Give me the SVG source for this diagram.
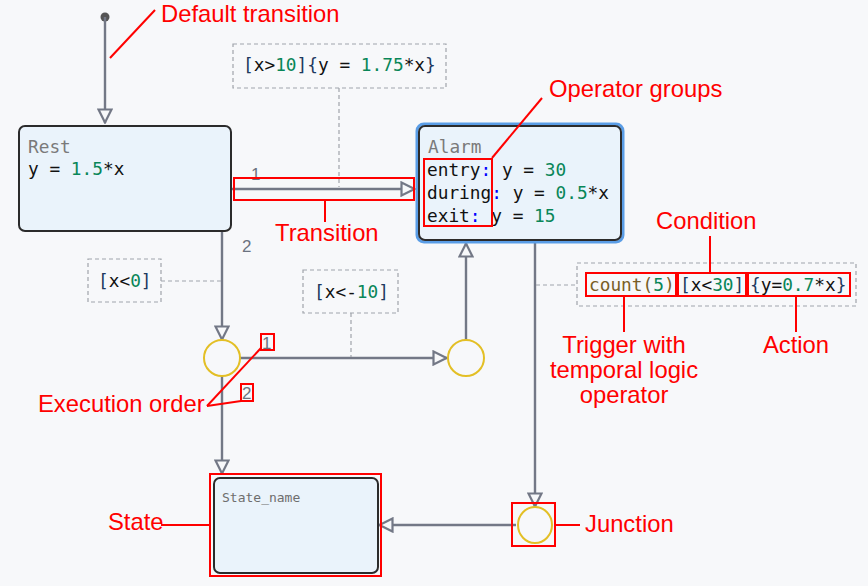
<svg xmlns="http://www.w3.org/2000/svg" width="868" height="586" viewBox="0 0 868 586">
<defs>
<style>
.bg{fill:#f7f8fa}
.state{fill:#eaf3fb;stroke:#2b2b2b;stroke-width:2}
.conn{stroke:#737886;stroke-width:2.4;fill:none}
.junc{fill:none;stroke:#e3bf25;stroke-width:2}
.lbox{fill:none;stroke:#a0a4ab;stroke-width:1.2;stroke-dasharray:4 3}
.lead{stroke:#a0a4ab;stroke-width:1.2;stroke-dasharray:4 3;fill:none}
.code{font-family:"DejaVu Sans Mono","Liberation Mono",monospace;font-size:17.8px;fill:#111}
.name{fill:#7a7a7a}
.num{fill:#098658}
.kw{fill:#0000ff}
.fn{fill:#795e26}
.br{fill:#1e3a5f}
.ord{font-family:"Liberation Sans",Arial,sans-serif;font-size:17px;fill:#6b7280}
.ann{font-family:"Liberation Sans",Arial,sans-serif;font-size:23.8px;fill:#ff0000}
.annc{font-family:"Liberation Sans",Arial,sans-serif;font-size:23.8px;fill:#ff0000;text-anchor:middle}
.rl{stroke:#ff0000;stroke-width:2;fill:none}
.rb{stroke:#ff0000;stroke-width:2;fill:none}
</style>
<marker id="arr" viewBox="0 0 16 16" refX="15" refY="8" markerWidth="16" markerHeight="16" markerUnits="userSpaceOnUse" orient="auto">
<path d="M1.5,1.5 L14.5,8 L1.5,14.5 Z" fill="#f7f8fa" stroke="#737886" stroke-width="2.2" stroke-linejoin="miter"/>
</marker>
</defs>
<rect class="bg" x="0" y="0" width="868" height="586"/>

<g id="connectors">
<circle cx="105" cy="17" r="4.5" fill="#555"/>
<line class="conn" x1="105" y1="17" x2="105" y2="123" marker-end="url(#arr)"/>
<line class="conn" x1="232" y1="189" x2="415" y2="189" marker-end="url(#arr)"/>
<line class="conn" x1="222" y1="232" x2="222" y2="340" marker-end="url(#arr)"/>
<line class="conn" x1="240" y1="358" x2="447" y2="358" marker-end="url(#arr)"/>
<line class="conn" x1="466" y1="340" x2="466" y2="243" marker-end="url(#arr)"/>
<line class="conn" x1="222" y1="376" x2="222" y2="474" marker-end="url(#arr)"/>
<line class="conn" x1="535" y1="243" x2="535" y2="507" marker-end="url(#arr)"/>
<line class="conn" x1="516" y1="525" x2="379" y2="525" marker-end="url(#arr)"/>
<text class="ord" x="251" y="180">1</text>
<text class="ord" x="242" y="252">2</text>
<text class="ord" x="262" y="349">1</text>
<text class="ord" x="242" y="399">2</text>
</g>

<g id="label-rest-alarm">
<rect class="lbox" x="233" y="44" width="213" height="44"/>
<line class="lead" x1="339" y1="88" x2="339" y2="187"/>
<text class="code" x="243" y="71"><tspan class="br">[</tspan>x&gt;<tspan class="num">10</tspan><tspan class="br">]{</tspan>y = <tspan class="num">1.75</tspan>*x<tspan class="br">}</tspan></text>
</g>

<g id="label-x0">
<rect class="lbox" x="88" y="259" width="73" height="43"/>
<line class="lead" x1="161" y1="281" x2="221" y2="281"/>
<text class="code" x="98" y="287"><tspan class="br">[</tspan>x&lt;<tspan class="num">0</tspan><tspan class="br">]</tspan></text>
</g>

<g id="label-xm10">
<rect class="lbox" x="303" y="270" width="95" height="43"/>
<line class="lead" x1="351" y1="313" x2="351" y2="357"/>
<text class="code" x="314" y="298"><tspan class="br">[</tspan>x&lt;-<tspan class="num">10</tspan><tspan class="br">]</tspan></text>
</g>

<g id="label-count">
<rect class="lbox" x="577" y="263" width="279" height="43"/>
<line class="lead" x1="536" y1="285" x2="577" y2="285"/>
<text class="code" x="589" y="291"><tspan class="fn">count(</tspan><tspan class="num">5</tspan><tspan class="fn">)</tspan><tspan x="680" class="br">[</tspan>x&lt;<tspan class="num">30</tspan><tspan class="br">]</tspan><tspan x="750" class="br">{</tspan>y=<tspan class="num">0.7</tspan>*x<tspan class="br">}</tspan></text>
</g>

<g id="rest">
<rect class="state" x="19" y="126" width="212" height="105" rx="6"/>
<text class="code name" x="28" y="153">Rest</text>
<text class="code" x="28" y="175">y = <tspan class="num">1.5</tspan>*x</text>
</g>

<g id="alarm">
<rect x="417" y="124" width="206" height="118" rx="7" fill="none" stroke="#5a9de6" stroke-width="3"/>
<rect class="state" x="419" y="126" width="202" height="114" rx="6"/>
<text class="code name" x="428" y="153">Alarm</text>
<text class="code" x="427" y="176">entry<tspan class="kw">:</tspan> y = <tspan class="num">30</tspan></text>
<text class="code" x="427" y="199">during<tspan class="kw">:</tspan> y = <tspan class="num">0.5</tspan>*x</text>
<text class="code" x="427" y="222">exit<tspan class="kw">:</tspan> y = <tspan class="num">15</tspan></text>
</g>

<g id="junction1"><circle class="junc" cx="222" cy="358" r="18"/></g>
<g id="junction2"><circle class="junc" cx="466" cy="358" r="18"/></g>
<g id="junction3"><ellipse class="junc" cx="535" cy="525" rx="17" ry="18"/></g>

<g id="state-name">
<rect class="state" x="214" y="478" width="164" height="95" rx="6"/>
<text x="222" y="502" font-family="DejaVu Sans Mono,Liberation Mono,monospace" font-size="13" fill="#6e6e6e">State_name</text>
</g>

<g id="annotations">
<text class="ann" x="161" y="22">Default transition</text>
<line class="rl" x1="110" y1="58" x2="155" y2="10"/>
<rect class="rb" x="234" y="178" width="180" height="22"/>
<line class="rl" x1="325" y1="200" x2="325" y2="222"/>
<text class="ann" x="275" y="241">Transition</text>
<rect class="rb" x="424" y="159" width="68" height="67"/>
<line class="rl" x1="492" y1="158" x2="542" y2="98"/>
<text class="ann" x="549" y="97">Operator groups</text>
<text class="ann" x="656" y="229">Condition</text>
<line class="rl" x1="710" y1="236" x2="710" y2="273"/>
<rect class="rb" x="586" y="273" width="90" height="23"/>
<rect class="rb" x="678" y="273" width="68" height="23"/>
<rect class="rb" x="748" y="273" width="102" height="23"/>
<line class="rl" x1="624" y1="296" x2="624" y2="332"/>
<line class="rl" x1="796" y1="296" x2="796" y2="332"/>
<text class="annc" x="624" y="353">Trigger with</text>
<text class="annc" x="624" y="378">temporal logic</text>
<text class="annc" x="624" y="403">operator</text>
<text class="annc" x="796" y="353">Action</text>
<rect class="rb" x="261" y="334" width="13" height="16"/>
<rect class="rb" x="241" y="384" width="12" height="17"/>
<line class="rl" x1="207" y1="406" x2="261" y2="348"/>
<line class="rl" x1="207" y1="406" x2="241" y2="401"/>
<text class="ann" x="38" y="412">Execution order</text>
<rect class="rb" x="210" y="474" width="171" height="102"/>
<line class="rl" x1="161" y1="525" x2="210" y2="525"/>
<text class="ann" x="108" y="530">State</text>
<rect class="rb" x="512" y="503" width="43" height="43"/>
<line class="rl" x1="555" y1="525" x2="580" y2="525"/>
<text class="ann" x="585" y="532">Junction</text>
</g>
</svg>
